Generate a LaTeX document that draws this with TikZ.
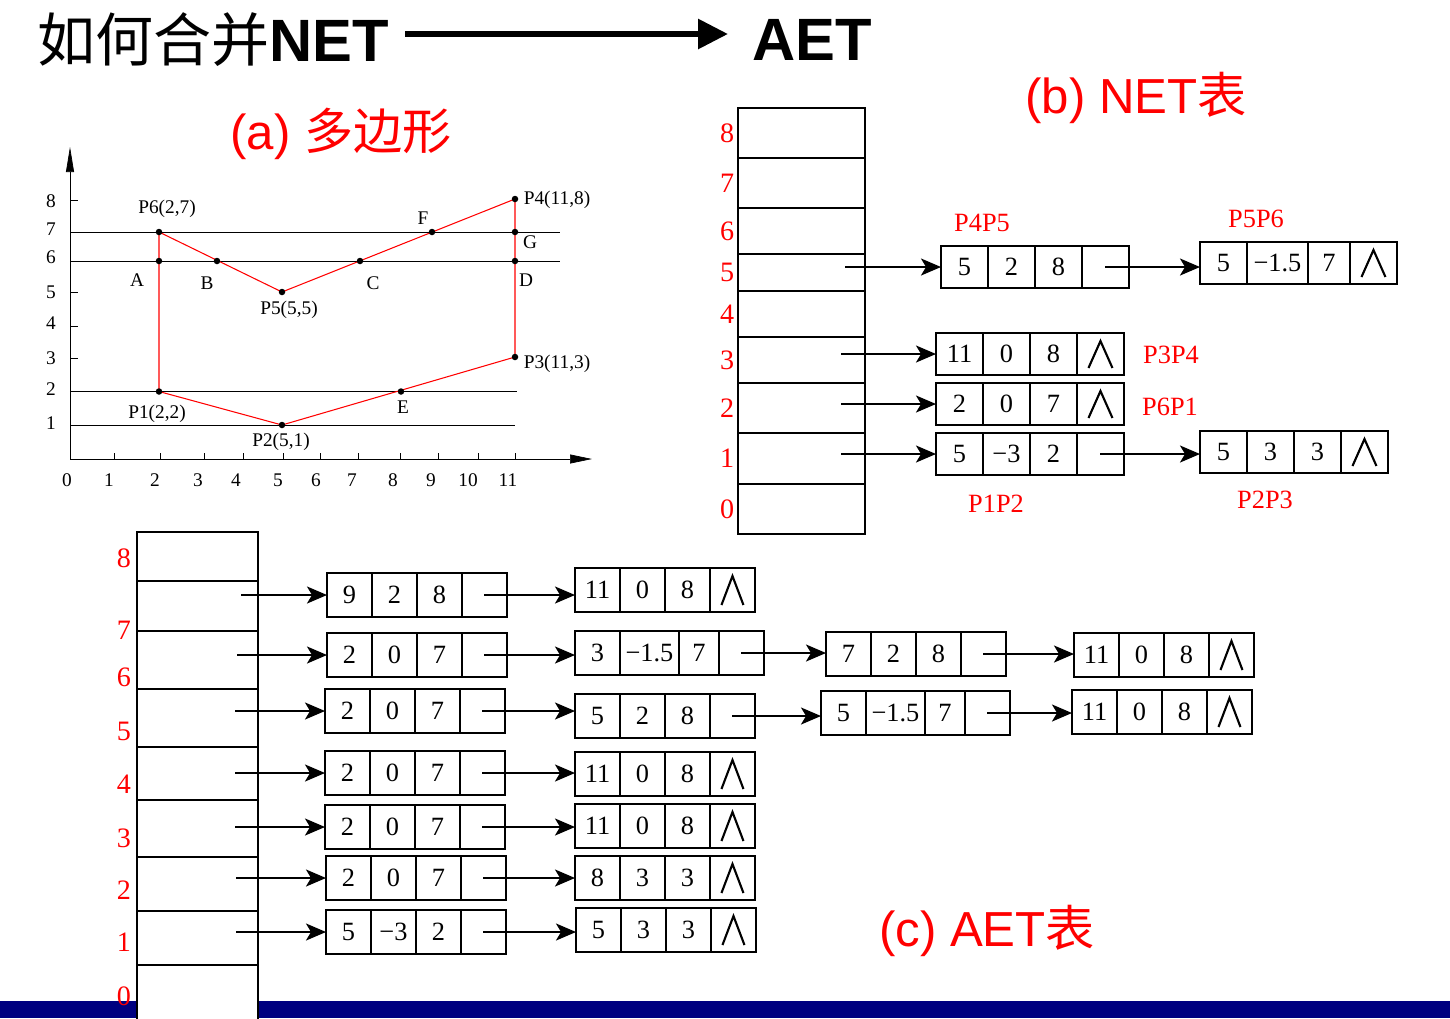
\documentclass[tikz,border=0pt]{standalone}
\usepackage{fontspec}
\setmainfont{Liberation Serif}
\setsansfont{Liberation Sans}
\newfontfamily\cjk{Noto Sans CJK SC}
\usetikzlibrary{positioning,arrows.meta}

\definecolor{barblue}{RGB}{0,0,128}

\tikzset{
  cell/.style={draw, line width=1.1pt, outer sep=0pt, inner sep=0pt,
    minimum width=0.94cm, minimum height=0.84cm, font=\fontsize{15}{15}\selectfont},
  nil/.style={path picture={\draw[line width=1.2pt]
    ([xshift=0.23cm,yshift=0.14cm]path picture bounding box.south west) --
    ([yshift=-0.16cm]path picture bounding box.north) --
    ([xshift=-0.23cm,yshift=0.14cm]path picture bounding box.south east);}},
  row/.style={draw, line width=1.1pt, outer sep=0pt, anchor=north west},
  ptr/.style={line width=1.1pt, -{Stealth[length=0.4cm,width=0.34cm,inset=0.1cm]}},
  idx/.style={text=red, font=\fontsize{16}{16}\selectfont},
  tag/.style={text=red, font=\fontsize{15}{15}\selectfont},
  lbl/.style={font=\fontsize{11}{11}\selectfont, inner sep=0pt},
  hd/.style={text=red, font=\sffamily\fontsize{28}{28}\selectfont},
}

% one list record: name, west point, three values, widths of cells 2 and 3, style of last cell
\newcommand{\rec}[8]{%
  \node[cell, anchor=west] (#1-1) at (#2) {#3};
  \node[cell, right=0pt of #1-1, minimum width=#6] (#1-2) {#4};
  \node[cell, right=0pt of #1-2, minimum width=#7] (#1-3) {#5};
  \node[cell, right=0pt of #1-3, #8] (#1-4) {};
}

\begin{document}
\begin{tikzpicture}[x=0.02cm, y=-0.02cm]
\useasboundingbox (0,0) rectangle (1450,1018);

\fill[barblue] (0,1001) rectangle (1450,1018);

% title
\node[anchor=west, inner sep=0pt] (net) at (37,40)
  {{\cjk\fontsize{33}{33}\selectfont 如何合并}{\sffamily\bfseries\fontsize{34}{34}\selectfont NET}};
\node[anchor=west, inner sep=0pt] (aet) at (752,40)
  {\sffamily\bfseries\fontsize{34}{34}\selectfont AET};
\draw[line width=3.4pt, shorten <=0.32cm, shorten >=0.48cm,
  -{Triangle[length=0.6cm,width=0.58cm]}] ([yshift=0.12cm]net.east) -- ([yshift=0.12cm]aet.west);

\node[hd] at (341,134) {(a) {\cjk 多边形}};
\node[hd] at (1136,98) {(b) NET{\cjk 表}};
\node[hd] at (987,931) {(c) AET{\cjk 表}};

% (a) polygon
\coordinate (O) at (70,459);
\coordinate (P1) at (159,391.5);
\coordinate (P2) at (282,425);
\coordinate (P3) at (515,357);
\coordinate (P4) at (515,199);
\coordinate (P5) at (282,292);
\coordinate (P6) at (159,232);
\coordinate (A) at (159,261);
\coordinate (B) at (217,261);
\coordinate (C) at (360,261);
\coordinate (D) at (515,261);
\coordinate (E) at (401,391.5);
\coordinate (F) at (432,232);
\coordinate (G) at (515,232);

\draw[-{Triangle[length=0.44cm,width=0.18cm]}] (O) -- (592,459);
\draw[-{Triangle[length=0.5cm,width=0.16cm]}] (O) -- (70,147);
\foreach \x in {114,160,204,243,283,320,358,400,438,478,515} \draw (\x,459) -- (\x,453);
\foreach \y in {200,232,261,292,326,358,391,425} \draw (70,\y) -- (78,\y);
\foreach \x/\t in {67/0,109/1,155/2,198/3,236/4,278/5,316/6,352/7,393/8,431/9,468/10,508/11}
  \node[lbl] at (\x,480) {\t};
\foreach \y/\t in {201/8,229/7,257/6,292/5,323/4,358/3,389/2,423/1}
  \node[lbl] at (51,\y) {\t};

\draw (70,232) -- (560,232);
\draw (70,261) -- (560,261);
\draw (70,391.5) -- (250,391.5);
\draw (250,391) -- (517,391);
\draw (70,425) -- (515,425);

\draw[red, line width=0.6pt] (P1) -- (P2) -- (P3) -- (P4) -- (P5) -- (P6) -- cycle;
\foreach \p in {P1,P2,P3,P4,P5,P6,A,B,C,D,E,F,G} \fill (\p) circle (0.065cm);

\node[lbl] at (167,209) {P6(2,7)};
\node[lbl] at (557,200) {P4(11,8)};
\node[lbl] at (423,218) {F};
\node[lbl] at (530,242) {G};
\node[lbl] at (137,280) {A};
\node[lbl] at (207,283) {B};
\node[lbl] at (373,283) {C};
\node[lbl] at (526,280) {D};
\node[lbl] at (289,310) {P5(5,5)};
\node[lbl] at (557,364) {P3(11,3)};
\node[lbl] at (403,407) {E};
\node[lbl] at (157,414) {P1(2,2)};
\node[lbl] at (281,442) {P2(5,1)};

% (b) NET
\foreach \n/\top/\h in {8/108/1.0cm,7/158/1.0cm,6/208/0.92cm,5/254/0.74cm,4/291/0.92cm,
    3/337/0.92cm,2/383/1.0cm,1/433/1.02cm,0/484/1.0cm} {
  \node[row, minimum width=2.54cm, minimum height=\h] (n\n) at (738,\top) {};
  \node[idx, left=2pt of n\n.west, inner sep=0pt] {\n};
}

\rec{p45}{941,267}{5}{2}{8}{0.94cm}{0.94cm}{}
\rec{p56}{1200,263}{5}{−1.5}{7}{1.22cm}{0.84cm}{nil}
\rec{p34}{936,354}{11}{0}{8}{0.94cm}{0.94cm}{nil}
\rec{p61}{936,404}{2}{0}{7}{0.94cm}{0.94cm}{nil}
\rec{p12}{936,454}{5}{−3}{2}{0.94cm}{0.94cm}{}
\rec{p23}{1200,452}{5}{3}{3}{0.94cm}{0.94cm}{nil}

\draw[ptr] ([xshift=-1.92cm]p45-1.west) -- (p45-1.west);
\foreach \r in {34,61,12} \draw[ptr] ([xshift=-1.9cm]p\r-1.west) -- (p\r-1.west);
\draw[ptr] (p45-4.center) -- (p45-4.center -| p56-1.west);
\draw[ptr] (p12-4.center) -- (p12-4.center -| p23-1.west);

\node[tag] at (982,223) {P4P5};
\node[tag] at (1256,219) {P5P6};
\node[tag] at (1171,355) {P3P4};
\node[tag] at (1170,407) {P6P1};
\node[tag] at (996,504) {P1P2};
\node[tag] at (1265,500) {P2P3};

% (c) AET
\foreach \n/\top/\h in {8/532/0.98cm,7/581/1.0cm,6/631/1.16cm,5/689/1.16cm,4/747/1.06cm,
    3/800/1.14cm,2/857/1.08cm,1/911/1.08cm,0/965/1.2cm}
  \node[row, fill=white, minimum width=2.42cm, minimum height=\h] (e\n) at (137,\top) {};
\foreach \y/\t in {558/8,630/7,677/6,731/5,784/4,838/3,890/2,942/1,996/0}
  \node[idx] at (124,\y) {\t};

\begin{scope}[cell/.append style={minimum width=0.9cm, minimum height=0.88cm}]
\rec{a7}{327,595}{9}{2}{8}{0.9cm}{0.9cm}{}
\rec{a6}{327,655}{2}{0}{7}{0.9cm}{0.9cm}{}
\rec{a5}{325,711}{2}{0}{7}{0.9cm}{0.9cm}{}
\rec{a4}{325,773}{2}{0}{7}{0.9cm}{0.9cm}{}
\rec{a3}{325,827}{2}{0}{7}{0.9cm}{0.9cm}{}
\rec{a2}{326,878}{2}{0}{7}{0.9cm}{0.9cm}{}
\rec{a1}{326,932}{5}{−3}{2}{0.9cm}{0.9cm}{}

\rec{b7}{575,590}{11}{0}{8}{0.9cm}{0.9cm}{nil}
\rec{b6}{575,653}{3}{−1.5}{7}{1.18cm}{0.8cm}{}
\rec{b5}{575,716}{5}{2}{8}{0.9cm}{0.9cm}{}
\rec{b4}{575,774}{11}{0}{8}{0.9cm}{0.9cm}{nil}
\rec{b3}{575,826}{11}{0}{8}{0.9cm}{0.9cm}{nil}
\rec{b2}{575,878}{8}{3}{3}{0.9cm}{0.9cm}{nil}
\rec{b1}{576,930}{5}{3}{3}{0.9cm}{0.9cm}{nil}

\rec{c6}{826,654}{7}{2}{8}{0.9cm}{0.9cm}{}
\rec{c5}{821,713}{5}{−1.5}{7}{1.18cm}{0.8cm}{}
\rec{d6}{1074,655}{11}{0}{8}{0.9cm}{0.9cm}{nil}
\rec{d5}{1072,712}{11}{0}{8}{0.9cm}{0.9cm}{nil}
\end{scope}

\draw[ptr] ([xshift=-1.72cm]a7-1.west) -- (a7-1.west);
\foreach \r in {6,...,1} \draw[ptr] ([xshift=-1.8cm]a\r-1.west) -- (a\r-1.west);
\foreach \r in {7,...,1} \draw[ptr] (a\r-4.center) -- (a\r-4.center -| b\r-1.west);
\foreach \r in {6,5} {
  \draw[ptr] (b\r-4.center) -- (b\r-4.center -| c\r-1.west);
  \draw[ptr] (c\r-4.center) -- (c\r-4.center -| d\r-1.west);
}

\end{tikzpicture}
\end{document}
